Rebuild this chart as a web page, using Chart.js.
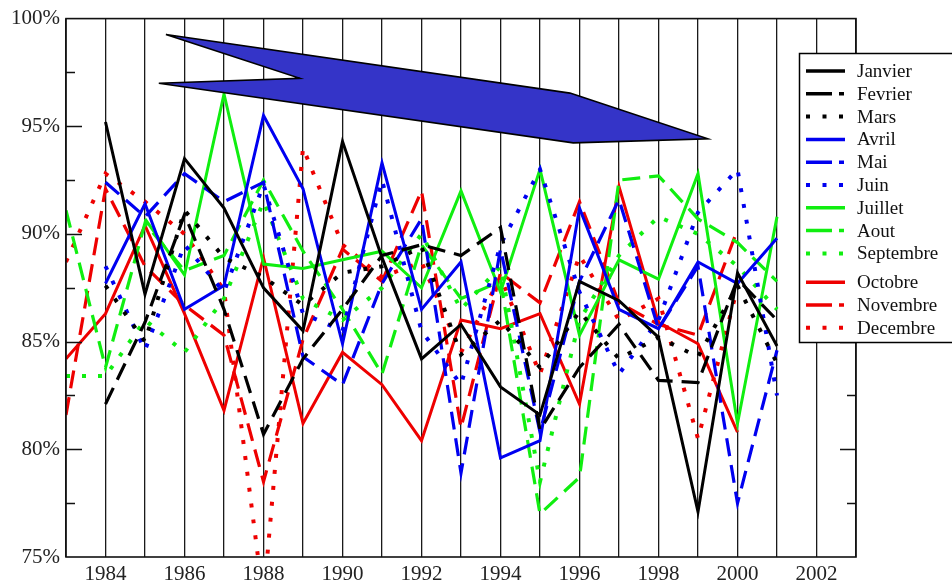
<!DOCTYPE html>
<html>
<head>
<meta charset="utf-8">
<script src="https://cdn.jsdelivr.net/npm/chart.js@4.4.0/dist/chart.umd.min.js"></script>
<style>
    html, body { margin: 0; padding: 0; background: #fff; }
    #wrap { width: 952px; height: 585px; }
</style>
</head>
<body>
<div id="wrap"><canvas id="chart" width="952" height="585"></canvas></div>
<script>
// Monthly values per year (percent)
const years = [1983, 1984, 1985, 1986, 1987, 1988, 1989, 1990, 1991, 1992,
               1993, 1994, 1995, 1996, 1997, 1998, 1999, 2000, 2001];

const janvier   = [null, 95.2, 87.2, 93.5, 91.2, 87.5, 85.5, 94.3, 88.9, 84.2, 85.8, 82.9, 81.6, 87.8, 86.9, 85.2, 77.1, 88.2, 84.8];
const fevrier   = [null, 82.1, 85.9, 90.9, 86.5, 80.7, 84.2, 86.5, 89.0, 89.5, 89.0, 90.3, 80.9, 83.8, 85.8, 83.2, 83.1, 87.9, 86.0];
const mars      = [null, 87.6, 85.0, 91.1, 88.9, 88.0, 86.7, 88.2, 88.5, 89.4, 84.4, 86.0, 83.8, 86.4, 84.2, 85.2, 84.3, 87.6, 84.0];
const avril     = [null, 87.7, 91.4, 86.5, 87.6, 95.5, 92.1, 84.9, 93.3, 86.5, 88.7, 79.6, 80.4, 91.2, 86.5, 85.6, 88.7, 87.7, 89.8];
const mai       = [null, 92.4, 90.8, 92.8, 91.5, 92.4, 84.3, 83.0, 87.7, 90.7, 78.9, 89.3, 80.8, 87.8, 91.6, 85.6, 88.5, 77.5, 84.6];
const juin      = [null, 88.5, 84.6, 89.5, 87.3, 92.3, 86.3, 85.5, 92.5, 85.5, 83.0, 89.5, 93.0, 87.3, 83.5, 86.0, 91.0, 93.0, 82.5];
const juillet   = [null, null, 90.7, 88.1, 96.5, 88.6, 88.4, 88.8, 89.2, 87.5, 92.0, 87.3, 93.0, 85.3, 88.8, 87.9, 92.8, 81.2, 90.8];
const aout      = [91.1, 83.8, 90.5, 88.3, 89.0, 92.5, 89.2, 86.5, 83.5, 89.5, 87.0, 87.8, 77.0, 78.7, 92.5, 92.7, 90.7, 89.6, 87.8];
const septembre = [83.4, 83.4, 86.0, 84.5, 87.0, 91.5, 87.0, 86.0, 87.5, 90.0, 86.5, 88.5, 78.5, 86.0, 89.0, 90.8, 90.0, 88.5, 86.5];
const octobre   = [84.2, 86.3, 90.4, 86.3, 81.8, 88.9, 81.2, 84.5, 83.0, 80.4, 86.0, 85.6, 86.3, 82.1, 92.2, 85.9, 84.9, 80.8, null];
const novembre  = [81.6, 92.1, 88.5, 86.7, 85.3, 78.5, 85.1, 89.3, 87.8, 92.0, 81.0, 88.2, 86.8, 91.5, 86.8, 85.8, 85.3, 90.2, null];
const decembre  = [88.7, 92.8, 91.5, 90.0, 87.4, 73.0, 94.0, 89.5, 88.0, 88.7, 84.5, 88.0, 83.5, 89.0, 86.0, 87.0, 80.5, 87.5, null];

const seriesNames  = ['Janvier', 'Fevrier', 'Mars', 'Avril', 'Mai', 'Juin',
                      'Juillet', 'Aout', 'Septembre', 'Octobre', 'Novembre', 'Decembre'];
const seriesValues = [janvier, fevrier, mars, avril, mai, juin,
                      juillet, aout, septembre, octobre, novembre, decembre];

// Big blue arrow drawn over the plot, corners given as [year, percent]
const arrowCorners = [[1985.53, 99.26], [1995.76, 96.54], [1999.25, 94.42],
                      [1995.84, 94.23], [1985.35, 97.0], [1988.92, 97.23]];

const COLORS = ['#000000', '#0000f0', '#10ee10', '#ee0000'];
const STYLES = ['solid', 'dash', 'dot'];
const dashFor = { solid: [], dash: [18, 9], dot: [4, 12] };
const widthFor = { solid: 3, dash: 3.2, dot: 4 };
const legendDash = { solid: [], dash: [26, 7, 5, 20], dot: [4, 12.5] };

const SERIF = '"Liberation Serif", "DejaVu Serif", serif';

function styleOf(i) { return STYLES[i % 3]; }
function colorOf(i) { return COLORS[Math.floor(i / 3)]; }

const datasets = seriesNames.map((name, i) => ({
    label: name,
    data: years.map((yr, k) => ({ x: yr, y: seriesValues[i][k] })),
    borderColor: colorOf(i),
    borderWidth: widthFor[styleOf(i)],
    borderDash: dashFor[styleOf(i)],
    borderCapStyle: 'butt',
    borderJoinStyle: 'miter',
    pointRadius: 0,
    tension: 0,
    fill: false,
    spanGaps: false
}));

const frameAndTicks = {
    id: 'frameAndTicks',
    afterDatasetsDraw(chart) {
        const { ctx, chartArea: a, scales } = chart;
        // arrow
        ctx.save();
        ctx.beginPath();
        arrowCorners.forEach(([yr, pct], k) => {
            const px = scales.x.getPixelForValue(yr);
            const py = scales.y.getPixelForValue(pct);
            if (k === 0) ctx.moveTo(px, py); else ctx.lineTo(px, py);
        });
        ctx.closePath();
        ctx.fillStyle = '#3434c8';
        ctx.fill();
        ctx.lineWidth = 1.6;
        ctx.strokeStyle = '#000';
        ctx.lineJoin = 'miter';
        ctx.stroke();

        // inner tick marks on left and right axes
        ctx.strokeStyle = '#111';
        ctx.lineWidth = 1.4;
        for (let v = 77.5; v < 100; v += 2.5) {
            const len = v % 5 === 0 ? 16 : 9;
            const py = Math.round(scales.y.getPixelForValue(v)) + 0.5;
            ctx.beginPath();
            ctx.moveTo(a.left, py); ctx.lineTo(a.left + len, py);
            ctx.moveTo(a.right - len, py); ctx.lineTo(a.right, py);
            ctx.stroke();
        }
        // frame
        ctx.lineWidth = 1.6;
        ctx.strokeRect(a.left, a.top, a.right - a.left, a.bottom - a.top);
        ctx.restore();
    },
    afterDraw(chart) {
        const { ctx } = chart;
        ctx.save();
        // legend box (runs off the right edge like the original)
        ctx.fillStyle = '#fff';
        ctx.fillRect(799, 53, 170, 289);
        ctx.strokeStyle = '#000';
        ctx.lineWidth = 1.5;
        ctx.strokeRect(799.5, 53.5, 170, 289);
        ctx.font = '19px ' + SERIF;
        ctx.textBaseline = 'middle';
        seriesNames.forEach((name, i) => {
            const y = 71 + i * 22.8 + (i >= 9 ? 6 : 0);
            const st = styleOf(i);
            ctx.strokeStyle = colorOf(i);
            ctx.lineWidth = st === 'dot' ? 4 : 3.5;
            ctx.lineCap = 'butt';
            ctx.setLineDash(legendDash[st]);
            ctx.beginPath();
            ctx.moveTo(806, y);
            ctx.lineTo(845, y);
            ctx.stroke();
            ctx.setLineDash([]);
            ctx.fillStyle = '#111';
            ctx.fillText(name, 857, y + 1);
        });
        ctx.restore();
    }
};

new Chart(document.getElementById('chart'), {
    type: 'line',
    data: { datasets },
    options: {
        responsive: false,
        animation: false,
        devicePixelRatio: 1,
        layout: { padding: { top: 15, right: 96, left: 0, bottom: 0 } },
        plugins: {
            legend: { display: false },
            tooltip: { enabled: false }
        },
        scales: {
            x: {
                type: 'linear',
                min: 1983,
                max: 2003,
                afterFit(scale) { scale.height = 28; },
                ticks: {
                    stepSize: 1,
                    autoSkip: false,
                    maxRotation: 0,
                    padding: 5,
                    color: '#222',
                    font: { family: SERIF, size: 21 },
                    callback: v => (v % 2 === 0 && v < 2003) ? String(v) : ''
                },
                grid: { color: '#1a1a1a', lineWidth: 1.3, drawTicks: false },
                border: { display: false }
            },
            y: {
                min: 75,
                max: 100,
                afterFit(scale) { scale.width = 66; },
                ticks: {
                    stepSize: 2.5,
                    padding: 6,
                    color: '#222',
                    font: { family: SERIF, size: 21 },
                    callback: v => v % 5 === 0 ? v + '%' : ''
                },
                grid: { display: false, drawTicks: false },
                border: { display: false }
            }
        }
    },
    plugins: [frameAndTicks]
});
</script>
</body>
</html>
